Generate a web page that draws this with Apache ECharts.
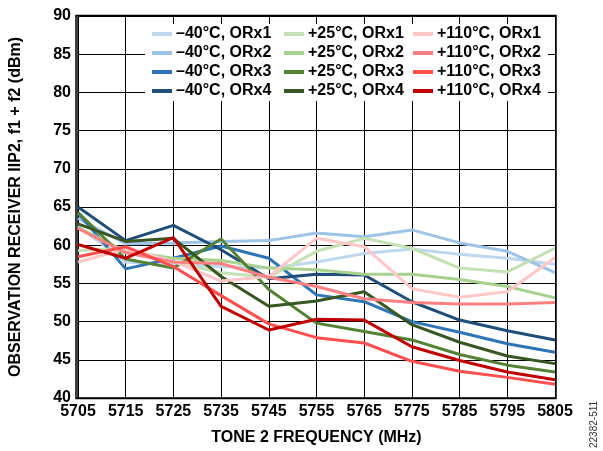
<!DOCTYPE html>
<html>
<head>
<meta charset="utf-8">
<script src="https://cdn.jsdelivr.net/npm/echarts@6/dist/echarts.min.js"></script>
<style>html,body{margin:0;padding:0;background:#fff;}#c{width:603px;height:451px;}</style>
</head>
<body>
<div id="c"></div>
<script>
// Data
var freqs = ['5705','5715','5725','5735','5745','5755','5765','5775','5785','5795','5805'];
var yTicks = [40,45,50,55,60,65,70,75,80,85,90];

var m40_orx1 = [62.5, 57.8, 57.5, 57.2, 57.0, 57.8, 58.9, 59.5, 58.8, 58.3, 57.5];
var m40_orx2 = [63.5, 60.2, 60.3, 60.5, 60.6, 61.6, 61.1, 62.0, 60.3, 59.2, 56.4];
var m40_orx3 = [64.2, 56.9, 58.3, 59.9, 58.3, 53.5, 52.6, 50.0, 48.6, 47.1, 46.0];
var m40_orx4 = [65.0, 60.6, 62.6, 59.4, 55.6, 56.2, 56.1, 52.6, 50.2, 48.8, 47.6];
var p25_orx1 = [59.3, 59.6, 57.8, 56.4, 55.8, 59.2, 60.9, 59.6, 57.0, 56.5, 59.6];
var p25_orx2 = [62.3, 59.2, 58.3, 58.0, 57.0, 56.8, 56.2, 56.2, 55.5, 54.6, 53.1];
var p25_orx3 = [64.3, 58.2, 57.0, 60.8, 54.2, 49.8, 48.7, 47.6, 45.7, 44.3, 43.4];
var p25_orx4 = [62.8, 60.5, 60.9, 55.9, 52.0, 52.7, 53.9, 49.6, 47.3, 45.5, 44.5];
var p110_orx1 = [57.8, 59.5, 57.9, 55.3, 55.9, 60.9, 59.8, 54.3, 53.2, 53.9, 58.4];
var p110_orx2 = [62.2, 59.0, 57.8, 57.6, 55.8, 54.6, 53.0, 52.5, 52.3, 52.3, 52.5];
var p110_orx3 = [58.5, 59.8, 57.2, 53.4, 49.7, 47.9, 47.2, 44.8, 43.5, 42.7, 41.8];
var p110_orx4 = [60.1, 58.3, 61.0, 52.0, 48.9, 50.3, 50.2, 46.7, 44.9, 43.4, 42.4];

var names = [
  ['\u201340\u00B0C, ORx1','\u201340\u00B0C, ORx2','\u201340\u00B0C, ORx3','\u201340\u00B0C, ORx4'],
  ['+25\u00B0C, ORx1','+25\u00B0C, ORx2','+25\u00B0C, ORx3','+25\u00B0C, ORx4'],
  ['+110\u00B0C, ORx1','+110\u00B0C, ORx2','+110\u00B0C, ORx3','+110\u00B0C, ORx4']
];
var values = [
  [m40_orx1, m40_orx2, m40_orx3, m40_orx4],
  [p25_orx1, p25_orx2, p25_orx3, p25_orx4],
  [p110_orx1, p110_orx2, p110_orx3, p110_orx4]
];
var colors = [
  ['#bdd7ee','#9dc3e6','#2e75b6','#1f4e79'],
  ['#c5e0b4','#a9d18e','#548235','#385723'],
  ['#ffc7c7','#ff8080','#ff4f4f','#c00000']
];

var FONT = 'Arial, "Liberation Sans", sans-serif';
var series = [];
for (var g = 0; g < 3; g++) {
  for (var i = 0; i < 4; i++) {
    series.push({
      name: names[g][i], type: 'line', data: values[g][i],
      symbol: 'none', smooth: false,
      lineStyle: { width: 3, color: colors[g][i] },
      itemStyle: { color: colors[g][i] },
      z: 2
    });
  }
}
var legendLefts = [152, 284, 413];
var legends = legendLefts.map(function (l, g) {
  return {
    orient: 'vertical', left: l, top: 26, padding: 0,
    itemWidth: 20, itemHeight: 4, itemGap: 3, icon: 'rect',
    data: names[g], selectedMode: false,
    textStyle: { fontFamily: FONT, fontWeight: 'bold', fontSize: 16, color: '#000', padding: [0,0,0,-1] }
  };
});

var chart = echarts.init(document.getElementById('c'), null, { renderer: 'canvas' });
chart.setOption({
  animation: false,
  backgroundColor: '#fff',
  grid: { left: 77, right: 48, top: 16, bottom: 53 },
  legend: legends,
  xAxis: {
    type: 'category', data: freqs, boundaryGap: false,
    name: 'TONE 2 FREQUENCY (MHz)', nameLocation: 'middle', nameGap: 32,
    nameTextStyle: { fontFamily: FONT, fontWeight: 'bold', fontSize: 16, color: '#000' },
    axisLine: { show: true, lineStyle: { color: '#000', width: 1.5 } },
    axisTick: { show: false },
    axisLabel: { fontFamily: FONT, fontWeight: 'bold', fontSize: 16, color: '#000', margin: 6, interval: 0 },
    splitLine: { show: true, lineStyle: { color: '#000', width: 1 } }
  },
  yAxis: {
    type: 'value', min: yTicks[0], max: yTicks[yTicks.length - 1], interval: 5,
    name: 'OBSERVATION RECEIVER IIP2, f1 + f2 (dBm)', nameLocation: 'middle', nameGap: 54,
    nameTextStyle: { fontFamily: FONT, fontWeight: 'bold', fontSize: 16, color: '#000' },
    axisLine: { show: true, lineStyle: { color: '#000', width: 1.5 } },
    axisTick: { show: false },
    axisLabel: { fontFamily: FONT, fontWeight: 'bold', fontSize: 16, color: '#000', margin: 7 },
    splitLine: { show: true, lineStyle: { color: '#000', width: 1 } }
  },
  graphic: [
    { type: 'rect', shape: { x: 145, y: 24, width: 403, height: 77 }, style: { fill: '#fff' }, z: 3, silent: true },
    { type: 'rect', shape: { x: 76, y: 15.5, width: 480, height: 383 }, style: { fill: 'none', stroke: '#000', lineWidth: 1.5 }, z: 5, silent: true },
    { type: 'text', x: 589, y: 448, rotation: Math.PI / 2, style: { text: '22382-511', font: '10px ' + FONT, fill: '#333' }, z: 5 }
  ],
  series: series
});
</script>
</body>
</html>
